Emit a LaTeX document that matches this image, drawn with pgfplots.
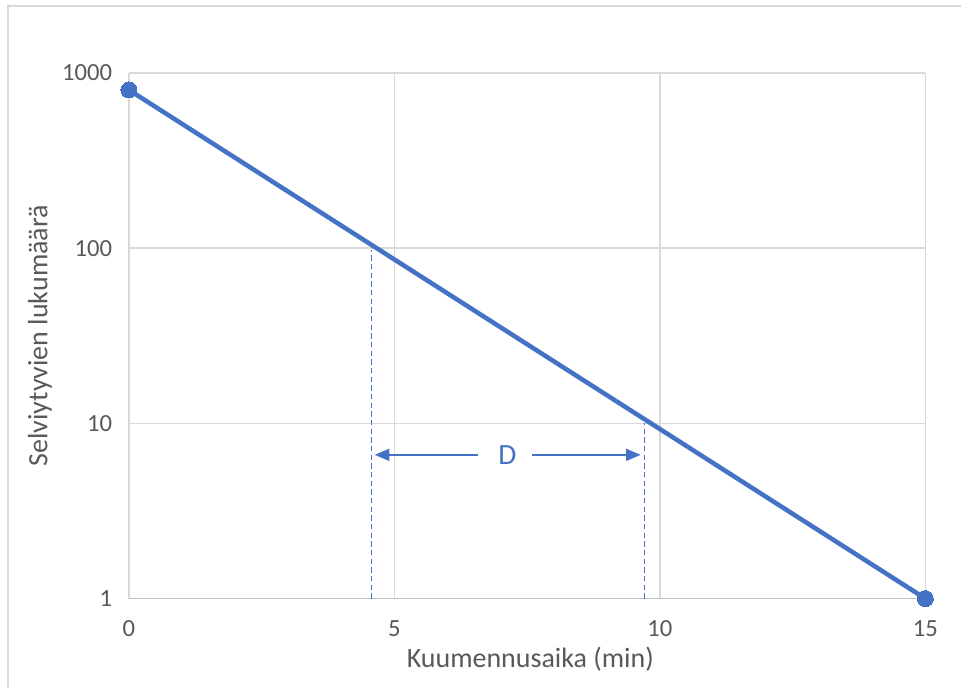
\documentclass[border=0pt]{standalone}
\usepackage{fontspec}
\setmainfont{Carlito}
\usepackage{pgfplots}
\pgfplotsset{compat=1.18}
\usetikzlibrary{arrows.meta}
\definecolor{mainblue}{HTML}{4472C4}
\definecolor{tickc}{HTML}{595959}
\definecolor{gridc}{HTML}{D9D9D9}
\definecolor{axisc}{HTML}{BFBFBF}
\begin{document}
\begin{tikzpicture}[x=1pt,y=1pt]
\begin{axis}[
  at={(0,0)}, anchor=south west,
  scale only axis, width=597.75pt, height=394.5pt,
  ymode=log, log basis y=10,
  xmin=0, xmax=15, ymin=1, ymax=1000,
  xtick={0,5,10,15}, ytick={1,10,100,1000},
  yticklabels={1,10,100,1000},
  grid=major, major grid style={draw=gridc, line width=1.1pt},
  axis line style={draw=none},
  tick style={draw=none},
  ticklabel style={text=tickc, font=\fontsize{18.5}{22}\selectfont},
  /pgf/number format/assume math mode=true,
  xticklabel style={yshift=-13pt},
  yticklabel style={xshift=-9pt},
  xlabel={Kuumennusaika (min)}, ylabel={Selviytyvien lukumäärä},
  label style={text=tickc, font=\fontsize{21}{25}\selectfont},
  xlabel style={at={(axis description cs:0.504,-0.116)}, anchor=center},
  ylabel style={at={(axis description cs:-0.1117,0.5)}, anchor=center, rotate=0},
  clip=false,
]
\draw[axisc, line width=1.1pt] (axis cs:0,1) -- (axis cs:15,1);
\addplot[color=mainblue, line width=1pt, dash pattern=on 4pt off 2.5pt] coordinates {(4.57,1) (4.57,97.5)};
\addplot[color=mainblue, line width=1pt, dash pattern=on 4pt off 2.5pt] coordinates {(9.71,1) (9.71,10)};
\addplot[color=mainblue, line width=3.4pt, mark=*, mark size=6pt, mark options={line width=0pt, fill=mainblue}] coordinates {(0,800) (15,1)};
\draw[mainblue, line width=1.3pt, -{Triangle[length=11pt,width=9pt]}] (axis cs:6.57,6.61) -- (axis cs:4.63,6.61);
\draw[mainblue, line width=1.3pt, -{Triangle[length=11pt,width=9pt]}] (axis cs:7.60,6.61) -- (axis cs:9.64,6.61);
\node[text=mainblue, font=\fontsize{22}{26}\selectfont] at (axis cs:7.13,6.61) {D};
\end{axis}
\draw[gridc, line width=1.1pt] (-90.75pt,-67.5pt) -- (-90.75pt,444.75pt) -- (624.75pt,444.75pt);
\path[use as bounding box] (-96.75pt,-67.5pt) rectangle (624.75pt,449.25pt);
\end{tikzpicture}
\end{document}
